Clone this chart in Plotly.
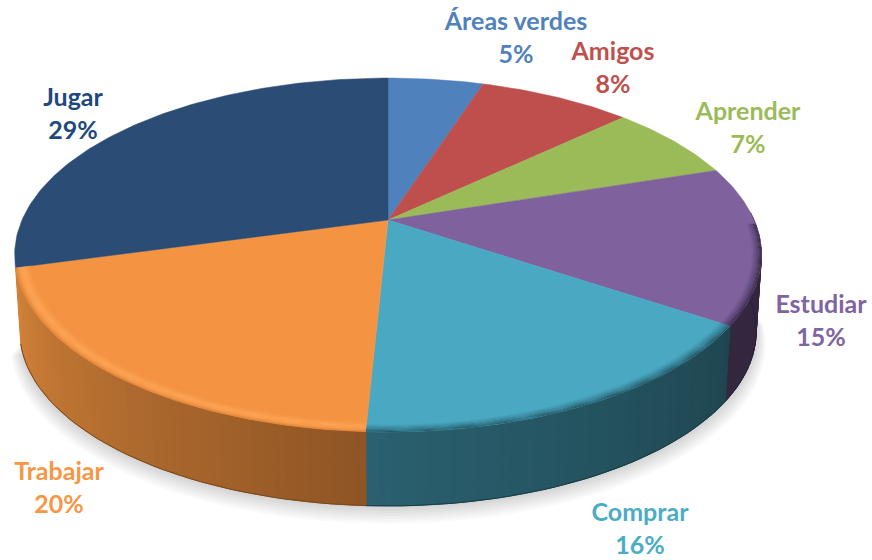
import math
import plotly.graph_objects as go

categories = ["Áreas verdes", "Amigos", "Aprender", "Estudiar", "Comprar", "Trabajar", "Jugar"]
values = [5, 8, 7, 15, 16, 20, 29]
top_colors = ["#4F81BD", "#BE4F4C", "#9BBB59", "#7F619E", "#49A8C2", "#F49443", "#2B4C75"]
label_colors = ["#4F81BD", "#C0504D", "#9BBB59", "#8064A2", "#4BACC6", "#F79646", "#1F497D"]

# styling / projection constants (pixels)
CX, CY, A, B, K = 388.0, 220.0, 366.0, 170.0, 0.1977
DEPTH, SHRINK = 77.0, 0.986
WARP = [(0, 0), (72, 0), (126, 2.3), (183.6, 0.8), (255.6, 1.0), (330, 0), (360, 0)]  # camera skew, degrees
label_pos = [(516, 40), (613, 70), (748, 130), (821, 323), (640, 531), (59, 490), (73, 116)]
wall_shades = {  # slice index -> (colour at slice start angle, colour at slice end angle)
    3: ("#33263F", "#33263F"),
    4: ("#1F4650", "#2A6070"),
    5: ("#8F5525", "#D28238"),
}
wall_edge = {3: "#2A1F36", 4: "#1A3B44", 5: "#7A4820"}
# radial colour stops of the rim: (radius, colour)
bevels = {
    3: [(.975, "#7F619E"), (.99, "#5A4574"), (1.0, "#33263F")],
    4: [(.972, "#49A8C2"), (.988, "#377F92"), (1.0, "#215260")],
    5: [(.962, "#F49443"), (.982, "#FDA656"), (.992, "#F89C4C"), (1.0, "#D98239")],
}
bevel_start = {3: 92.0}


def warp(t):
    for (t0, w0), (t1, w1) in zip(WARP, WARP[1:]):
        if t0 <= t <= t1:
            f = (1 - math.cos(math.pi * (t - t0) / (t1 - t0))) / 2
            return t - (w0 + (w1 - w0) * f)
    return t


def project(t_deg, r=1.0, low=False):
    t = math.radians(warp(t_deg))
    x, y = r * math.sin(t), r * math.cos(t)
    d = 1 + K * y
    px, py = A * x / d, B * y / d
    if low:
        return CX + SHRINK * px, CY - SHRINK * py + DEPTH
    return CX + px, CY - py


def steps(a, b, n):
    return [a + (b - a) * i / n for i in range(n + 1)]


def mix(c1, c2, f):
    p = [int(c1[i:i + 2], 16) for i in (1, 3, 5)]
    q = [int(c2[i:i + 2], 16) for i in (1, 3, 5)]
    return "#%02X%02X%02X" % tuple(round(u + (v - u) * f) for u, v in zip(p, q))


def poly(pts, color, line=0.0):
    return go.Scatter(
        x=[p[0] for p in pts] + [pts[0][0]], y=[p[1] for p in pts] + [pts[0][1]],
        mode="lines", fill="toself", fillcolor=color,
        line=dict(color=color, width=line), hoverinfo="skip", showlegend=False,
    )


total = sum(values)
bounds = [0.0]
for v in values:
    bounds.append(bounds[-1] + 360.0 * v / total)

fig = go.Figure()

# soft shadow beneath the disc
for i in range(1, 8):
    s = 1 + i * 0.0035
    pts = []
    for t in steps(96, 256, 90):
        lx, ly = project(t, s, low=True)
        pts.append((lx, ly + i * 1.6))
    fig.add_trace(poly(pts, "rgba(0,0,0,0.022)"))

# side wall
for idx, (c0, c1) in wall_shades.items():
    a, b = bounds[idx], bounds[idx + 1]
    a, b = max(a, 88), min(b, 272)
    n = max(2, int((b - a) / 1.5))
    ts = steps(a, b, n)
    for j in range(n):
        t0, t1 = ts[j], ts[j + 1]
        col = mix(c0, c1, (j + 0.5) / n)
        fig.add_trace(poly([project(t0), project(t1), project(t1, low=True), project(t0, low=True)], col, 1))
    edge = [project(t, low=True) for t in ts]
    fig.add_trace(go.Scatter(x=[p[0] for p in edge], y=[p[1] for p in edge], mode="lines",
                             line=dict(color=wall_edge[idx], width=1),
                             hoverinfo="skip", showlegend=False))

# top face
for idx, col in enumerate(top_colors):
    a, b = bounds[idx], bounds[idx + 1]
    n = max(4, int(b - a))
    fig.add_trace(poly([project(0, 0)] + [project(t) for t in steps(a, b, n)], col, 0.5))

# rim bevel, built from thin bands blended between the radial stops
for idx, stops in bevels.items():
    a, b = max(bounds[idx], bevel_start.get(idx, 0)), bounds[idx + 1]
    n = max(4, int(b - a))
    ts = steps(a, b, n)
    for (r0, c0), (r1, c1) in zip(stops, stops[1:]):
        m = 4
        for q in range(m):
            ra, rb = r0 + (r1 - r0) * q / m, r0 + (r1 - r0) * (q + 1) / m
            col = mix(c0, c1, (q + 0.5) / m)
            pts = [project(t, rb) for t in ts] + [project(t, ra) for t in reversed(ts)]
            fig.add_trace(poly(pts, col))

# labels
for name, v, col, (lx, ly) in zip(categories, values, label_colors, label_pos):
    pct = round(100 * v / total)
    fig.add_trace(go.Scatter(
        x=[lx], y=[ly], mode="text", text=[f"{name}<br>{pct}%"], textposition="middle center",
        textfont=dict(family="Lato", size=25, color=col, weight="bold"),
        hoverinfo="skip", showlegend=False,
    ))

fig.update_layout(
    width=872, height=560, margin=dict(l=0, r=0, t=0, b=0),
    paper_bgcolor="white", plot_bgcolor="white", showlegend=False,
    xaxis=dict(range=[0, 872], visible=False, fixedrange=True),
    yaxis=dict(range=[560, 0], visible=False, fixedrange=True),
)
fig.write_html("out.html", config={"displayModeBar": False},
               post_script="document.body.style.margin='0';")
